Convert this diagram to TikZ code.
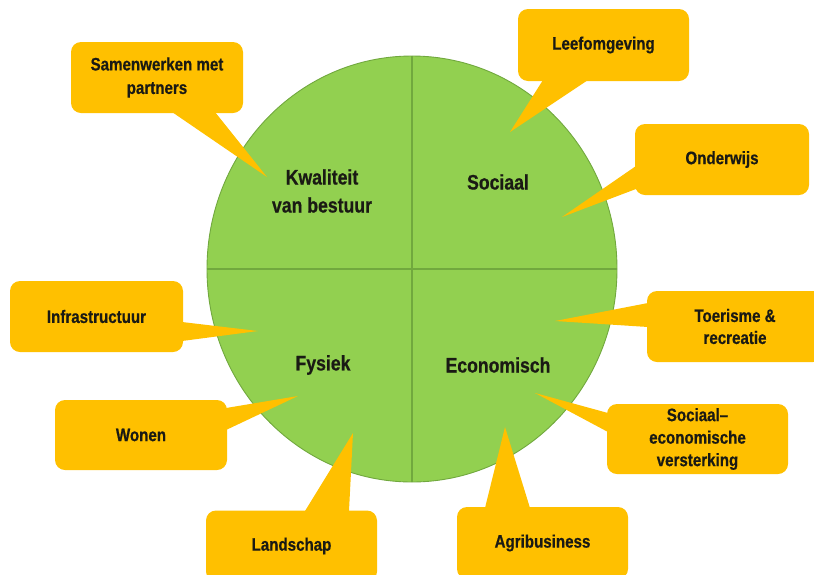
\documentclass[tikz,border=0pt]{standalone}
\usepackage{fontspec}
\setmainfont{Liberation Sans}[FakeStretch=0.84, BoldFeatures={FakeBold=0.6}]
\usetikzlibrary{shapes.geometric}
\definecolor{leaf}{HTML}{92D050}
\definecolor{leafline}{HTML}{71A83E}
\definecolor{callout}{HTML}{FFC000}
\definecolor{ink}{HTML}{1A1A14}
\begin{document}
\begin{tikzpicture}[x=1pt,y=-1pt,
  calloutbox/.style={fill=callout, rounded corners=10pt, inner sep=0pt,
    minimum width=#1, align=center, font=\fontsize{18}{23.5}\selectfont\bfseries, text=ink},
  calloutbox/.default=172pt,
  pointer/.style={fill=callout},
  dimlabel/.style={font=\fontsize{21}{28}\selectfont\bfseries, text=ink, align=center}]
\useasboundingbox (0,0) rectangle (814,574);
\clip (0,0) rectangle (814,574);
% circle
\node[draw=leafline, fill=leaf, line width=0.9pt, ellipse, minimum width=410pt, minimum height=426pt, inner sep=0pt] (wheel) at (412,269) {};
\draw[leafline, line width=1.2pt] (wheel.north) -- (wheel.south);
\draw[leafline, line width=1.2pt] (wheel.west) -- (wheel.east);
% dimension labels
\node[dimlabel] (kwal) at (322,191) {Kwaliteit\\van bestuur};
\node[dimlabel] (soc) at (498,182) {Sociaal};
\node[dimlabel] (fys) at (323,365) {Fysiek};
\node[dimlabel] (eco) at (498,365) {Economisch};
% callouts
\node[calloutbox=172pt, minimum height=71pt] (samen) at (157,77.5) {Samenwerken met\\partners};
\coordinate (samenTip) at (267,177);
\fill[callout] (172,112) -- (samenTip) -- (215,112) -- cycle;

\node[calloutbox=171pt, minimum height=72pt] (leef) at (603.5,45) {Leefomgeving};
\coordinate (leefTip) at (510,132);
\fill[callout] (543,80) -- (leefTip) -- (588,80) -- cycle;

\node[calloutbox=174pt, minimum height=71pt] (onder) at (722,159.5) {Onderwijs};
\coordinate (onderTip) at (562,217);
\fill[callout] (636,166) -- (onderTip) -- (636,189) -- cycle;

\node[calloutbox=176pt, minimum height=71pt, font=\fontsize{18}{22}\selectfont\bfseries] (toer) at (735,326.5) {Toerisme \&\\recreatie};
\coordinate (toerTip) at (555,321);
\fill[callout] (648,303) -- (toerTip) -- (648,327) -- cycle;

\node[calloutbox=181pt, minimum height=70pt, font=\fontsize{18}{22.5}\selectfont\bfseries] (soceco) at (697.5,439) {Sociaal–\\economische\\versterking};
\coordinate (socecoTip) at (535,393);
\fill[callout] (608,413) -- (socecoTip) -- (608,432) -- cycle;

\node[calloutbox=173pt, minimum height=71pt] (infra) at (96.5,316.5) {Infrastructuur};
\coordinate (infraTip) at (258,331);
\fill[callout] (182,322) -- (infraTip) -- (182,341) -- cycle;

\node[calloutbox=172pt, minimum height=70pt] (wonen) at (141,435) {Wonen};
\coordinate (wonenTip) at (298,396);
\fill[callout] (226,408) -- (wonenTip) -- (226,430) -- cycle;

\node[calloutbox=171pt, minimum height=71pt] (land) at (291.5,546) {Landschap};
\coordinate (landTip) at (353,433);
\fill[callout] (305,511) -- (landTip) -- (349,511) -- cycle;

\node[calloutbox=171pt, minimum height=72pt] (agri) at (542.5,543) {Agribusiness};
\coordinate (agriTip) at (505,427);
\fill[callout] (485,508) -- (agriTip) -- (530,508) -- cycle;
\end{tikzpicture}
\end{document}
